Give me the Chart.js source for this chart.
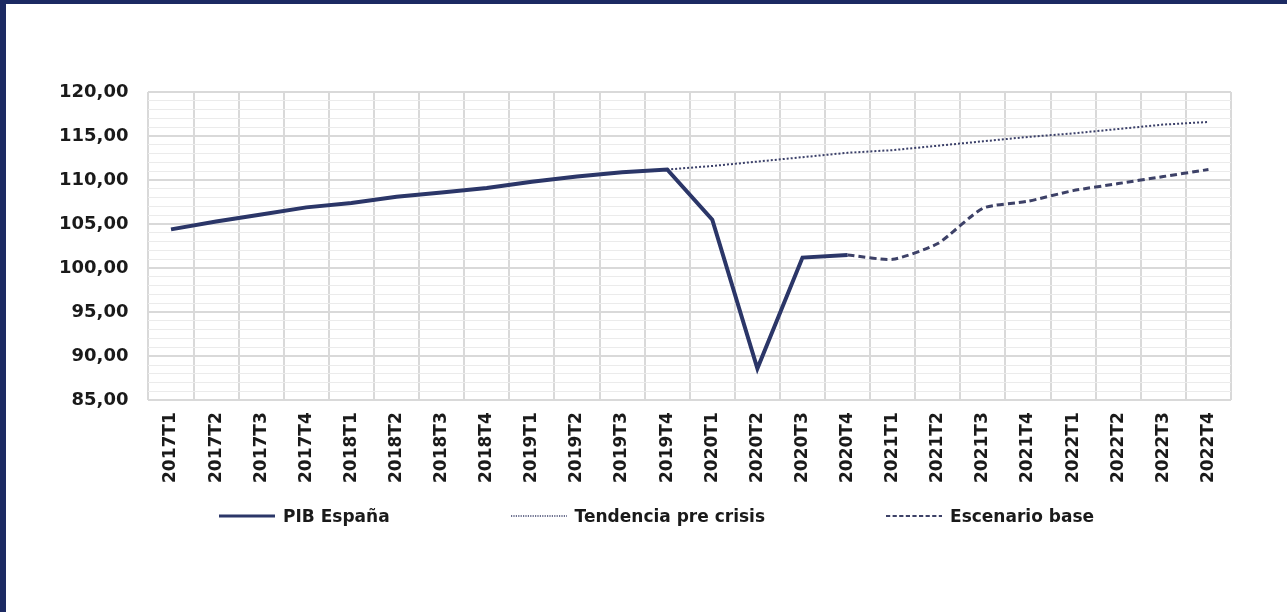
<!DOCTYPE html>
<html>
<head>
<meta charset="utf-8">
<script src="https://cdn.jsdelivr.net/npm/chart.js@4/dist/chart.umd.min.js"></script>
<style>
    html, body { margin: 0; padding: 0; }
    body { width: 1287px; height: 612px; background: #1c2a63; position: relative; overflow: hidden; }
    #frame { position: absolute; left: 6px; top: 4px; width: 1281px; height: 608px; background: #fff; }
    #chart { position: absolute; left: 0; top: 0; }
    #legend { position: absolute; left: 213px; top: 502px; display: flex; gap: 121px; align-items: center;
              font-family: 'DejaVu Sans', Verdana, sans-serif; font-weight: bold; font-size: 17px; color: #1a1a1a; }
    .item { display: flex; align-items: center; gap: 8px; }
    .item canvas { display: block; }
</style>
</head>
<body>
<div id="frame">
    <canvas id="chart" width="1281" height="608"></canvas>
    <div id="legend"></div>
</div>
<script>
// quarters on the x axis
const quarters = [
    '2017T1', '2017T2', '2017T3', '2017T4', '2018T1', '2018T2', '2018T3', '2018T4',
    '2019T1', '2019T2', '2019T3', '2019T4', '2020T1', '2020T2', '2020T3', '2020T4',
    '2021T1', '2021T2', '2021T3', '2021T4', '2022T1', '2022T2', '2022T3', '2022T4'
];

// PIB España, observed (2017T1 - 2020T4)
const pibEspana = [104.4, 105.3, 106.1, 106.9, 107.4, 108.1, 108.6, 109.1,
                   109.8, 110.4, 110.9, 111.2, 105.5, 88.6, 101.2, 101.5];

// pre-crisis trend, starts at 2019T4
const tendencia = [111.2, 111.6, 112.1, 112.6, 113.1, 113.4, 113.9,
                   114.4, 114.9, 115.3, 115.8, 116.3, 116.6];

// base scenario, starts at 2020T4
const escenario = [101.5, 101.0, 102.8, 106.8, 107.6, 108.8, 109.6, 110.4, 111.2];

const yMin = 85, yMax = 120, yMajor = 5;

// pad a series with nulls so it starts at a given quarter
const fromQuarter = (q, vals) => quarters.map((_, i) => {
    const k = i - quarters.indexOf(q);
    return k >= 0 && k < vals.length ? vals[k] : null;
});

const fmt = v => v.toFixed(2).replace('.', ',');

Chart.defaults.font.family = "'DejaVu Sans', Verdana, sans-serif";
Chart.defaults.font.weight = 'bold';
Chart.defaults.color = '#1a1a1a';

const chart = new Chart(document.getElementById('chart'), {
    type: 'line',
    data: {
        labels: quarters,
        datasets: [
            {
                label: 'PIB España',
                data: pibEspana,
                borderColor: '#2b3668',
                borderWidth: 4,
                pointRadius: 0,
                tension: 0
            },
            {
                label: 'Tendencia pre crisis',
                data: fromQuarter('2019T4', tendencia),
                borderColor: '#3b4069',
                borderWidth: 2,
                borderDash: [2, 2],
                pointRadius: 0,
                tension: 0
            },
            {
                label: 'Escenario base',
                data: fromQuarter('2020T4', escenario),
                borderColor: '#3d4167',
                borderWidth: 3,
                borderDash: [7, 4],
                pointRadius: 0,
                tension: 0.2
            }
        ]
    },
    options: {
        responsive: false,
        animation: false,
        layout: { padding: { left: 33, top: 88, right: 56, bottom: 117 } },
        plugins: {
            legend: { display: false },
            tooltip: { enabled: false }
        },
        scales: {
            x: {
                offset: true,
                grid: { offset: true, color: '#d9d9d9', lineWidth: 2, drawTicks: false },
                border: { display: false },
                ticks: { minRotation: 90, maxRotation: 90, padding: 12, autoSkip: false,
                         font: { size: 17 } }
            },
            y: {
                min: yMin,
                max: yMax,
                grid: {
                    drawTicks: false,
                    color: c => c.tick && c.tick.value % yMajor === 0 ? '#d9d9d9' : '#ebebeb',
                    lineWidth: c => c.tick && c.tick.value % yMajor === 0 ? 2 : 1
                },
                border: { display: false },
                ticks: {
                    stepSize: 1,
                    autoSkip: false,
                    padding: 20,
                    font: { size: 18 },
                    callback: v => v % yMajor === 0 ? fmt(v) : ''
                }
            }
        }
    }
});

// legend with wide spacing, built from the chart's datasets
const legend = document.getElementById('legend');
chart.data.datasets.forEach(ds => {
    const item = document.createElement('div');
    item.className = 'item';
    const swatch = document.createElement('canvas');
    swatch.width = 56;
    swatch.height = 10;
    const g = swatch.getContext('2d');
    g.strokeStyle = ds.borderColor;
    g.lineWidth = ds.borderDash ? Math.max(1.5, ds.borderWidth - 1) : ds.borderWidth - 1;
    g.setLineDash(ds.borderDash ? ds.borderDash.map(d => d * 0.6) : []);
    g.beginPath();
    g.moveTo(0, 5);
    g.lineTo(56, 5);
    g.stroke();
    const text = document.createElement('span');
    text.textContent = ds.label;
    item.append(swatch, text);
    legend.appendChild(item);
});
</script>
</body>
</html>
